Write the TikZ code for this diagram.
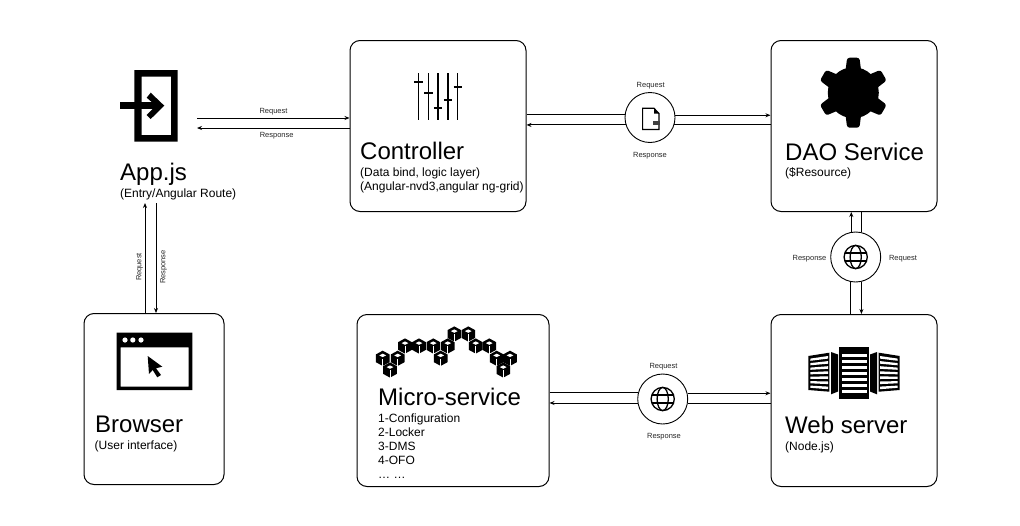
\documentclass[tikz,border=0pt]{standalone}
\usepackage{fontspec}
\setmainfont{Liberation Sans}
\usetikzlibrary{arrows.meta, positioning, calc}

\tikzset{
  globeicon/.pic={
    \draw[line width=1.3pt] (0,0) circle[radius=11.6];
    \draw[line width=1.3pt] (0,0) ellipse[x radius=5.6, y radius=11.6];
    \draw[line width=1.3pt] (-10.4,-4.1) -- (10.4,-4.1);
    \draw[line width=1.3pt] (-10.4,4.1) -- (10.4,4.1);
  },
  cubeicon/.pic={
    \fill (0,-7.6) -- (6.8,-3.9) -- (6.8,3.9) -- (0,7.6) -- (-6.8,3.9) -- (-6.8,-3.9) -- cycle;
    \fill[white] (0,-4.6) -- (3.4,-2.9) -- (0,-1.2) -- (-3.4,-2.9) -- cycle;
    \draw[white,line width=0.6pt] (0,0.3) -- (0,7.6);
  },
}

\begin{document}
\begin{tikzpicture}[
  x=1pt, y=-1pt,
  every node/.style={inner sep=0pt},
  card/.style={rectangle, draw, rounded corners=10pt, line width=1pt, anchor=north west},
  hub/.style={circle, draw, fill=white, line width=0.9pt, minimum size=50pt},
  titletxt/.style={font=\fontsize{24}{24}\selectfont, anchor=base west},
  subtxt/.style={font=\fontsize{12}{14}\selectfont, anchor=base west},
  tinytxt/.style={font=\fontsize{7.5}{8}\selectfont, text=black!85},
  msg/.style={-{Stealth[length=5pt,width=4pt]}, line width=0.9pt},
  wire/.style={line width=0.9pt},
]
  \useasboundingbox (0,0) rectangle (1020,525);

  % boxes
  \node[card,minimum width=176pt,minimum height=171pt] (ctrl) at (349.5,40) {};
  \node[card,minimum width=166pt,minimum height=171pt] (dao) at (770.5,40) {};
  \node[card,minimum width=140pt,minimum height=171pt] (brow) at (83.5,313) {};
  \node[card,minimum width=192pt,minimum height=172pt] (micro) at (356.5,314) {};
  \node[card,minimum width=166pt,minimum height=172pt] (web) at (770.5,314) {};

  % hubs
  \node[hub] (doc) at (650,117.5) {};
  \node[hub] (netv) at (855.7,257) {};
  \node[hub] (neth) at (662.7,399) {};

  % free ends at the App.js block
  \coordinate (appout) at (197,118);
  \coordinate (appret) at (197,128);
  \coordinate (appin) at (145,203);
  \coordinate (appdn) at (156,203);

  % connectors
  \draw[msg] (appout) -- (ctrl.west |- appout);
  \draw[msg] (ctrl.west |- appret) -- (appret);
  \draw[msg] (brow.north -| appin) -- (appin);
  \draw[msg] (appdn) -- (brow.north -| appdn);

  \draw[wire] (ctrl.east |- doc.174.3) -- (doc.174.3);
  \draw[msg] (doc.5.7) -- (dao.west |- doc.5.7);
  \draw[wire] (dao.west |- doc.-17.5) -- (doc.-17.5);
  \draw[msg] (doc.197.5) -- (ctrl.east |- doc.197.5);

  \draw[wire] (dao.south -| netv.77.1) -- (netv.77.1);
  \draw[msg] (netv.-77.1) -- (web.north -| netv.-77.1);
  \draw[wire] (web.north -| netv.259.9) -- (netv.259.9);
  \draw[msg] (netv.100.1) -- (dao.south -| netv.100.1);

  \draw[wire] (micro.east |- neth.166.8) -- (neth.166.8);
  \draw[msg] (neth.13.2) -- (web.west |- neth.13.2);
  \draw[wire] (web.west |- neth.-9.9) -- (neth.-9.9);
  \draw[msg] (neth.189.9) -- (micro.east |- neth.189.9);

  % connector labels
  \node[tinytxt] (lreqa) at (273.5,111.5) {Request};
  \node[tinytxt] (lresa) at (276.7,135.5) {Response};
  \node[tinytxt] (lreqb) at (650.7,86) {Request};
  \node[tinytxt] (lresb) at (650,156) {Response};
  \node[tinytxt] (lresc) at (809.5,258.5) {Response};
  \node[tinytxt] (lreqc) at (903,258.5) {Request};
  \node[tinytxt] (lreqd) at (663.5,367) {Request};
  \node[tinytxt] (lresd) at (664,437) {Response};
  \node[tinytxt,rotate=90] (lreqe) at (139.5,267) {Request};
  \node[tinytxt,rotate=90] (lrese) at (163.5,267) {Response};

  % texts
  \node[titletxt] (apptitle) at (120,180) {App.js};
  \node[subtxt] (appsub) at (120,197) {(Entry/Angular Route)};
  \node[titletxt] (ctrltitle) at (360,159.5) {Controller};
  \node[subtxt] (ctrlsuba) at (360,176) {(Data bind, logic layer)};
  \node[subtxt] (ctrlsubb) at (360,190) {(Angular-nvd3,angular ng-grid)};
  \node[titletxt] (daotitle) at (785,160) {DAO Service};
  \node[subtxt] (daosub) at (785,176) {(\$Resource)};
  \node[titletxt] (browtitle) at (95,432) {Browser};
  \node[subtxt] (browsub) at (94.5,449) {(User interface)};
  \node[titletxt] (microtitle) at (378,405) {Micro-service};
  \foreach \i/\txt in {0/1-Configuration,1/2-Locker,2/3-DMS,3/4-OFO,4/… …}
    \node[subtxt] (mlist\i) at (378,{422+14*\i}) {\txt};
  \node[titletxt] (webtitle) at (785,433) {Web server};
  \node[subtxt] (websub) at (785,450) {(Node.js)};

  % App.js icon
  \fill[even odd rule] (134.3,70) rectangle (177.7,141.7) (141.7,76.7) rectangle (171,135);
  \fill (120,102.3) rectangle (157,109.3);
  \fill (150.7,92.7) -- (164.3,105.7) -- (150.7,119) -- (146.7,115) -- (156,105.7) -- (146.7,97.7) -- cycle;

  % sliders
  \foreach \sx/\sy in {418.3/82.3,428.3/93.3,438/107.7,448/100,457.7/87.3} {
    \draw[line width=1.5pt] (\sx,73.3) -- (\sx,120);
    \draw[line width=1.8pt] (\sx-4.2,\sy) -- (\sx+4.2,\sy);
  }

  % doc icon
  \draw[line width=1.2pt] (654,108.3) -- (642.6,108.3) -- (642.6,129.5) -- (659,129.5) -- (659,113.5) -- cycle;
  \fill (654,108.3) -- (659,113.5) -- (654,113.5) -- cycle;
  \fill[black!75] (653,120.8) rectangle (660,125);

  % gear
  \fill (853.3,92.7) circle[radius=25.5];
  \foreach \a in {30,90,...,330}
    \fill[rounded corners=2.5pt,shift={(853.3,92.7)}] (\a-20:23) -- (\a-10:35.5) -- (\a+10:35.5) -- (\a+20:23) -- cycle;

  % globes
  \pic at (netv) {globeicon};
  \pic at (neth) {globeicon};

  % browser icon
  \fill[even odd rule] (116.7,332.7) rectangle (192.3,390) (120.7,347.3) rectangle (188.7,386.7);
  \foreach \dx in {125,132.8,141}
    \fill[white] (\dx,340) circle[radius=2.6];
  \fill (147.7,356) -- (162.3,366.7) -- (156,368.3) -- (161,375) -- (157.3,377.3) -- (152.7,370) -- (149,374) -- cycle;

  % cubes
  \foreach \cx/\cy in {382.7/358.3,397.7/358.3,390/370,405/346,419/346,433.3/346,447.7/346,440.7/358.3,
    454.3/334,468.3/334,475.7/346,489.3/346,496.7/358.3,510/358.3,503.3/370}
    \pic at (\cx,\cy) {cubeicon};

  % servers
  \fill (839.3,346.7) rectangle (869,399);
  \foreach \i in {0,...,6}
    \fill[white] (841.7,{354.2+6*\i}) rectangle (866.5,{357.4+6*\i});
  \foreach \mir in {1,-1} {
    \begin{scope}[shift={(854,0)},xscale=\mir]
      \fill (-45.7,356) -- (-24.7,352.7) -- (-24.7,391.7) -- (-45.7,390) -- cycle;
      \fill (-23,352) -- (-16,354.5) -- (-16,391.5) -- (-23,394.3) -- cycle;
      \foreach \i in {0,...,6}
        \fill[white] (-43.7,{358.6+4.5*\i}) -- (-26,{356+5.1*\i}) -- (-26,{358.6+5.1*\i}) -- (-43.7,{360.8+4.5*\i}) -- cycle;
    \end{scope}
  }
\end{tikzpicture}
\end{document}
